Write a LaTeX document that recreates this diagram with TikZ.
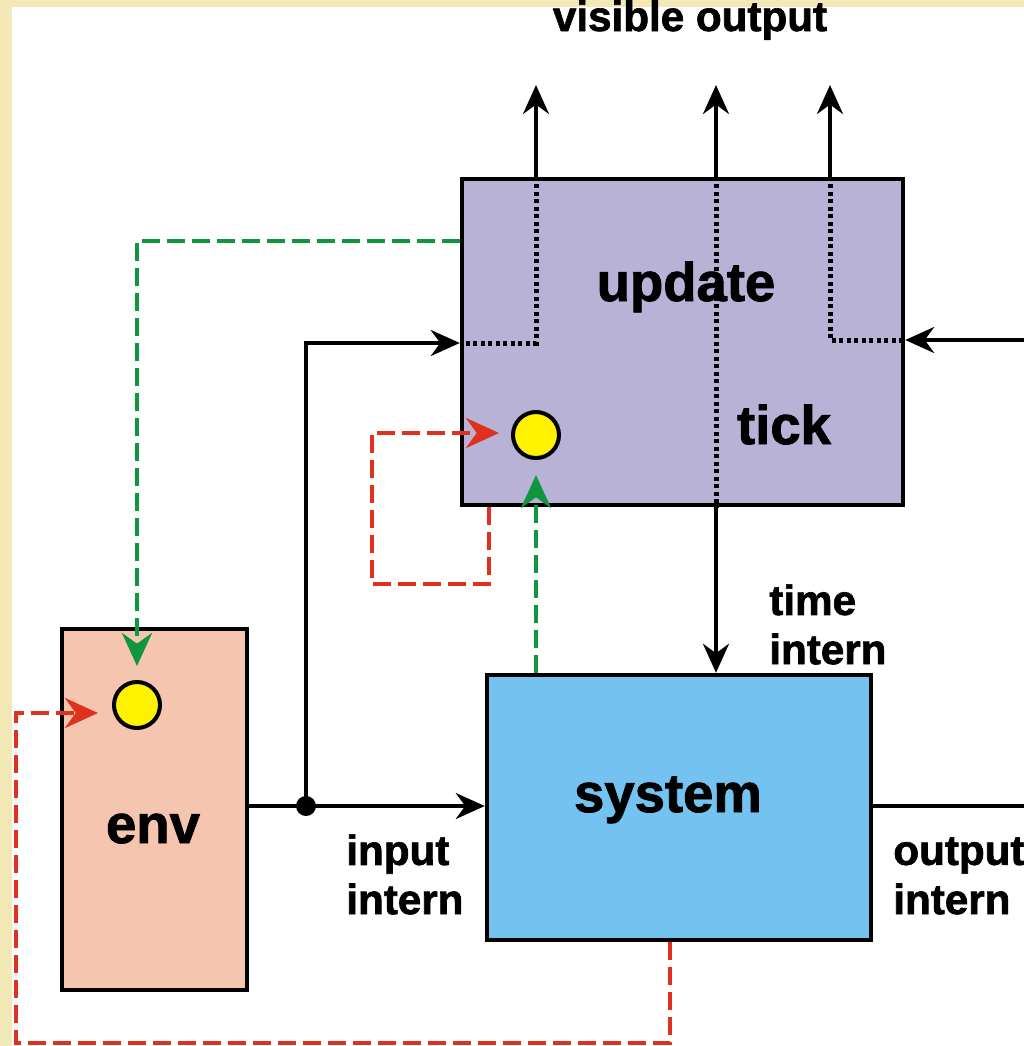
\documentclass[tikz,border=0pt]{standalone}
\usepackage{fontspec}
\setmainfont{Liberation Sans}
\newfontfamily\heavy{Liberation Sans Bold}[FakeBold=1.6]
\usetikzlibrary{arrows.meta}
\definecolor{paper}{HTML}{F3E9B6}
\definecolor{updfill}{HTML}{B9B2D7}
\definecolor{sysfill}{HTML}{73C2F0}
\definecolor{envfill}{HTML}{F5C5B0}
\definecolor{sigred}{HTML}{E0301E}
\definecolor{siggreen}{HTML}{10963E}
\begin{document}
\begin{tikzpicture}[x=0.02cm, y=-0.02cm,
    >={Stealth[length=0.58cm,width=0.52cm]},
    box/.style={draw, line width=0.09cm, inner sep=0},
    wire/.style={line width=0.07cm},
    dots/.style={line width=0.1cm, dash pattern=on 0.08cm off 0.07cm},
    redline/.style={draw=sigred, line width=0.09cm, dash pattern=on 0.36cm off 0.14cm,
      >={Stealth[length=0.66cm,width=0.6cm]}},
    greenline/.style={draw=siggreen, line width=0.09cm, dash pattern=on 0.36cm off 0.14cm,
      >={Stealth[length=0.66cm,width=0.6cm]}},
    lamp/.style={circle, draw, fill=yellow, line width=0.08cm, minimum size=0.92cm, inner sep=0},
    biglabel/.style={font=\heavy\fontsize{31}{37}\selectfont, inner sep=0},
    smalllabel/.style={font=\heavy\fontsize{24}{28}\selectfont, align=left, inner sep=0}]
  % background
  \fill[paper] (0,0) rectangle (1024,1046);
  \fill[white] (12,7) rectangle (1024,1046);
  \useasboundingbox (0,0) rectangle (1024,1046);

  % blocks
  \node[box, fill=updfill, minimum width=8.82cm, minimum height=6.52cm] (update) at (682.5,342) {};
  \node[box, fill=sysfill, minimum width=7.68cm, minimum height=5.3cm] (system) at (679,807.5) {};
  \node[box, fill=envfill, minimum width=3.7cm, minimum height=7.22cm] (env) at (154.5,809.5) {};
  \node[lamp] (tickdot) at (536,435) {};
  \node[lamp] (envdot) at (137,705) {};
  \node[circle, fill, inner sep=0, minimum size=0.4cm] (jn) at (306,806) {};

  % labels
  \node[biglabel, anchor=base] (updlbl) at (686,301) {update};
  \node[biglabel, anchor=base] (ticklbl) at (784,444) {tick};
  \node[biglabel, anchor=base] (syslbl) at (668,812) {system};
  \node[biglabel, anchor=base] (envlbl) at (153,843) {env};
  \node[smalllabel, anchor=base] (vislbl) at (690,31) {visible output};
  \node[smalllabel, anchor=north west] (timelbl) at (769,584) {time\\intern};
  \node[smalllabel, anchor=north west] (inlbl) at (346,834) {input\\intern};
  \node[smalllabel, anchor=north west] (outlbl) at (893,837) {output\\intern};

  % bend points
  \coordinate (out1) at (536,85);
  \coordinate (out2) at (716,85);
  \coordinate (out3) at (830,85);
  \coordinate (lin) at (306,343);
  \coordinate (rin) at (1024,340);
  \coordinate (oend) at (1024,806);
  \coordinate (gtop) at (137,241);
  \coordinate (r1) at (489,584);
  \coordinate (r2) at (372,433);
  \coordinate (r3) at (670,1043);
  \coordinate (r4) at (16,713);

  % solid signals
  \draw[wire,->] (update.north -| out1) -- (out1);
  \draw[wire,->] (update.north -| out2) -- (out2);
  \draw[wire,->] (update.north -| out3) -- (out3);
  \draw[wire,->] (rin) -- (update.east |- rin);
  \draw[wire] (env.east |- jn) -- (jn.center);
  \draw[wire,->] (jn.center) -- (system.west |- jn);
  \draw[wire,->] (jn.center) -- (lin) -- (update.west |- lin);
  \draw[wire,->] (update.south -| out2) -- (system.north -| out2);
  \draw[wire] (system.east |- jn) -- (oend);

  % paths through update
  \draw[dots] (update.north -| out1) |- (update.west |- lin);
  \draw[dots] (update.north -| out2) -- (update.south -| out2);
  \draw[dots] (update.north -| out3) |- (update.east |- rin);

  % triggers
  \draw[greenline,->,shorten >=0.28cm] (update.west |- gtop) -| (envdot.north);
  \draw[greenline,->,shorten >=0.3cm] (system.north -| tickdot) -- (tickdot.south);
  \draw[redline,->,shorten >=0.24cm] (update.south -| r1) -- (r1) -| (r2) -- (tickdot.west |- r2);
  \draw[redline,->,shorten >=0.28cm] (system.south -| r3) -- (r3) -| (r4) -- (envdot.west |- r4);
\end{tikzpicture}
\end{document}
